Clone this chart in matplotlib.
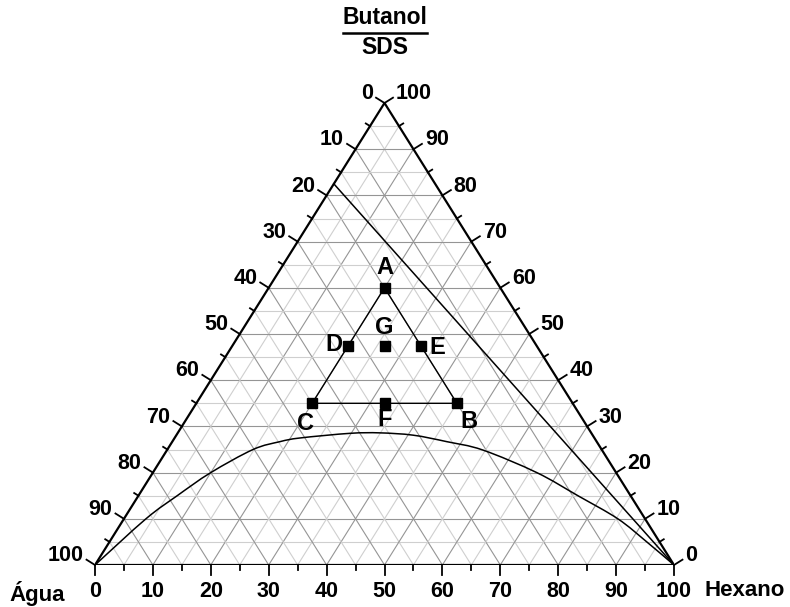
import numpy as np
import matplotlib
matplotlib.use("Agg")
import matplotlib.pyplot as plt
from matplotlib.lines import Line2D
from matplotlib.path import Path
from matplotlib.patches import PathPatch

plt.rcParams['font.family'] = ['Liberation Sans', 'DejaVu Sans']
plt.rcParams['font.weight'] = 'bold'

# composições (%): topo = Butanol/SDS, direita = Hexano, esquerda = Água
point_names = ['A', 'B', 'C', 'D', 'E', 'F', 'G']
point_top = [60, 35, 35, 47.5, 47.5, 35, 47.5]
point_hex = [20, 45, 20, 20, 32.5, 32.5, 26.25]

# triângulo A-B-C (linhas ligando os pontos)
tri_names = ['C', 'A', 'B', 'C']

# curva binodal
binodal_hex = [0, 3.8, 6.7, 10, 14.8, 18.6, 21.7, 29.8, 34.9, 40.9, 47.4, 54.5, 66.3, 75.9, 85.3, 92.8, 100]
binodal_top = [0, 10, 15, 20, 25, 26.7, 27.5, 28.5, 28.6, 28.1, 26.7, 24.9, 20, 15, 10, 5, 0]

# linha de diluição
line_hex = [0, 100]
line_top = [82.5, 0]


def tern(top, hexa):
    top = np.asarray(top, float) / 100
    hexa = np.asarray(hexa, float) / 100
    return hexa + top / 2, top


W, H = 790, 607
fig = plt.figure(figsize=(W / 100, H / 100), dpi=100)
x0, x1, ytop, ybot = 95, 674, 103, 565
ax = fig.add_axes([x0 / W, 1 - ybot / H, (x1 - x0) / W, (ybot - ytop) / H])
ax.set_xlim(0, 1)
ax.set_ylim(0, 1)
ax.axis('off')
pw, ph = x1 - x0, ybot - ytop  # pixels por unidade

# grade
for v in range(5, 100, 5):
    col = '#959595' if v % 10 == 0 else '#cfcfcf'
    lw = 0.8
    xs, ys = tern([v, v], [0, 100 - v])
    ax.plot(xs, ys, color=col, lw=lw, zorder=1)
    xs, ys = tern([0, 100 - v], [v, v])
    ax.plot(xs, ys, color=col, lw=lw, zorder=1)
    xs, ys = tern([100 - v, 0], [0, 100 - v])
    ax.plot(xs, ys, color=col, lw=lw, zorder=1)

# bordas
xs, ys = tern([0, 0, 100, 0], [0, 100, 0, 0])
ax.plot(xs, ys, color='black', lw=1.6, zorder=3, solid_joinstyle='miter')

# normais para fora (pixels, y para cima)
L = np.hypot(pw / 2, ph)
n_left = np.array([-ph / L, pw / 2 / L])
n_right = np.array([ph / L, pw / 2 / L])
n_bot = np.array([0.0, -1.0])


def tick(px, py, n, length):
    ax.plot([px, px + n[0] * length / pw], [py, py + n[1] * length / ph],
            color='black', lw=1.3, clip_on=False, zorder=3)


fs = 15.5
for v in range(0, 101, 5):
    length = 10 if v % 10 == 0 else 5
    bx, by = tern(0, v)
    tick(bx, by, n_bot, length)
    lx, ly = tern(100 - v, 0)
    tick(lx, ly, n_left, length)
    rx, ry = tern(v, 100 - v)
    tick(rx, ry, n_right, length)
    if v % 10 == 0:
        ax.annotate(str(v), (bx, by), xytext=(0, -16), textcoords='offset pixels',
                    ha='center', va='top', fontsize=fs, fontweight='bold')
        ax.annotate(str(v), (lx, ly), xytext=(n_left[0] * 10 - 3, n_left[1] * 10 + 4),
                    textcoords='offset pixels', ha='right', va='center',
                    fontsize=fs, fontweight='bold')
        ax.annotate(str(v), (rx, ry), xytext=(n_right[0] * 10 + 3, n_right[1] * 10 + 4),
                    textcoords='offset pixels', ha='left', va='center',
                    fontsize=fs, fontweight='bold')


def smooth_path(xs, ys):
    # Catmull-Rom -> Bezier cúbicas, em pixels para ficar suave na tela
    P = np.column_stack([np.asarray(xs) * pw, np.asarray(ys) * ph])
    verts = [P[0]]
    codes = [Path.MOVETO]
    for i in range(len(P) - 1):
        p0 = P[max(i - 1, 0)]
        p1, p2 = P[i], P[i + 1]
        p3 = P[min(i + 2, len(P) - 1)]
        c1 = p1 + (p2 - p0) / 6
        c2 = p2 - (p3 - p1) / 6
        verts += [c1, c2, p2]
        codes += [Path.CURVE4] * 3
    verts = np.array(verts) / [pw, ph]
    return Path(verts, codes)


# curva binodal e linha de diluição
bx_, by_ = tern(binodal_top, binodal_hex)
ax.add_patch(PathPatch(smooth_path(bx_, by_), fc='none', ec='black', lw=1.1, zorder=4))
lx_, ly_ = tern(line_top, line_hex)
ax.plot(lx_, ly_, color='black', lw=1.1, zorder=4)

# pontos
idx = {n: i for i, n in enumerate(point_names)}
tx, ty = tern([point_top[idx[n]] for n in tri_names], [point_hex[idx[n]] for n in tri_names])
ax.plot(tx, ty, color='black', lw=1.0, zorder=4)
px_, py_ = tern(point_top, point_hex)
ax.plot(px_, py_, 's', color='black', ms=7, zorder=5)

offsets = {'A': (0, 20, 'center'), 'B': (4, -18, 'left'), 'C': (-7, -20, 'center'),
           'D': (-6, 1, 'right'), 'E': (9, -2, 'left'), 'F': (0, -16, 'center'),
           'G': (0, 18, 'center')}
for n, xx, yy in zip(point_names, px_, py_):
    dx, dy, ha = offsets[n]
    ax.annotate(n, (xx, yy), xytext=(dx, dy), textcoords='offset pixels',
                ha=ha, va='center', fontsize=17, fontweight='bold', zorder=6)

# rótulos dos vértices
fig.text(9 / W, 1 - 593 / H, 'Água', ha='left', va='center', fontsize=16, fontweight='bold')
fig.text(705 / W, 1 - 590 / H, 'Hexano', ha='left', va='center', fontsize=16, fontweight='bold')
t1 = fig.text(385 / W, 1 - 18 / H, 'Butanol', ha='center', va='center', fontsize=16.5, fontweight='bold')
fig.text(385 / W, 1 - 48 / H, 'SDS', ha='center', va='center', fontsize=16.5, fontweight='bold')

fig.canvas.draw()
bb = t1.get_window_extent()
yl = (bb.y0 - 3) / H
fig.add_artist(Line2D([bb.x0 / W, bb.x1 / W], [yl, yl], color='black', lw=1.8))

fig.savefig('out.png', dpi=100)
